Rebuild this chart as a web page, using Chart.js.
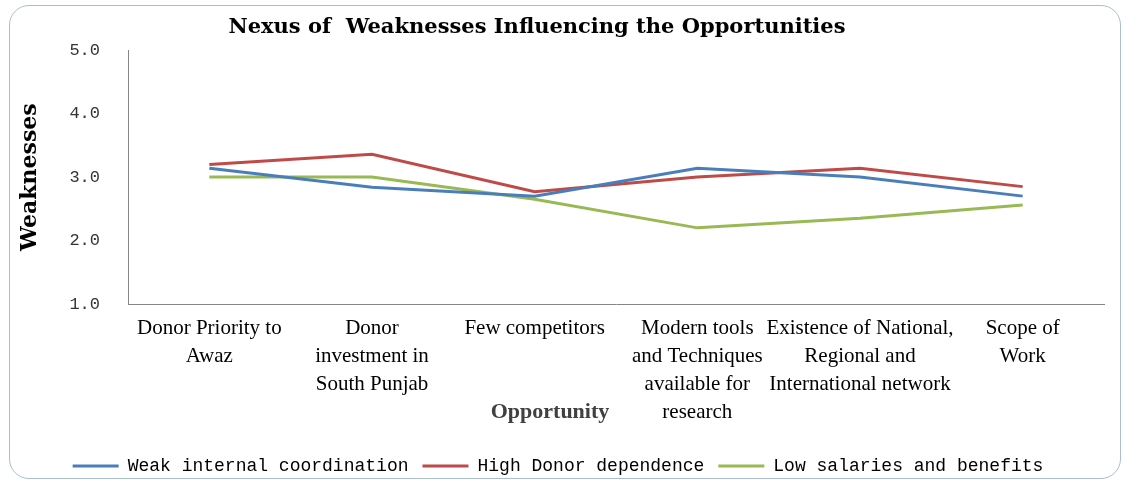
<!DOCTYPE html>
<html>
<head>
<meta charset="utf-8">
<script src="https://cdn.jsdelivr.net/npm/chart.js@4/dist/chart.umd.min.js"></script>
<style>
    html, body { margin: 0; padding: 0; background: #fff; }
    #wrap { position: relative; width: 1126px; height: 485px; }
    #frame {
        position: absolute; left: 9px; top: 5px; width: 1112px; height: 474px;
        border: 1.5px solid #a9bfcd; border-radius: 20px; box-sizing: border-box;
    }
    canvas { position: absolute; left: 0; top: 0; }
</style>
</head>
<body>
<div id="wrap">
    <div id="frame"></div>
    <canvas id="myChart" width="1126" height="485"></canvas>
</div>
<script>
var opportunities = [
    ['Donor Priority to', 'Awaz'],
    ['Donor', 'investment in', 'South Punjab'],
    'Few competitors',
    ['Modern tools', 'and Techniques', 'available for', 'research'],
    ['Existence of National,', 'Regional and', 'International network'],
    ['Scope of', 'Work']
];

var weakCoordination = [3.14, 2.84, 2.70, 3.14, 3.00, 2.70];
var donorDependence = [3.20, 3.36, 2.77, 3.00, 3.14, 2.85];
var lowSalaries = [3.00, 3.00, 2.65, 2.20, 2.35, 2.56];

var yTicks = [1, 2, 3, 4, 5];

var serif = "'Liberation Serif', 'Times New Roman', serif";
var mono = "'Liberation Mono', 'Courier New', monospace";

var ctx = document.getElementById('myChart').getContext('2d');
var myChart = new Chart(ctx, {
    type: 'line',
    data: {
        labels: opportunities,
        datasets: [{
            label: 'Weak internal coordination',
            data: weakCoordination,
            borderColor: '#4a7ebb',
            backgroundColor: '#4a7ebb',
            borderWidth: 3
        }, {
            label: 'High Donor dependence',
            data: donorDependence,
            borderColor: '#be4b48',
            backgroundColor: '#be4b48',
            borderWidth: 3
        }, {
            label: 'Low salaries and benefits',
            data: lowSalaries,
            borderColor: '#98b954',
            backgroundColor: '#98b954',
            borderWidth: 3
        }]
    },
    options: {
        responsive: false,
        animation: false,
        layout: {
            padding: { left: 12, right: 22, top: 10, bottom: 0 }
        },
        elements: {
            line: { tension: 0 },
            point: { radius: 0, hoverRadius: 0 }
        },
        plugins: {
            tooltip: { enabled: false },
            title: {
                display: true,
                // trailing em spaces nudge the centred title a bit to the left
                text: 'Nexus of  Weaknesses Influencing the Opportunities\u2003\u2003',
                color: '#000',
                font: { family: "'DejaVu Serif', serif", size: 21, weight: 'bold', lineHeight: 1.2 },
                padding: { top: 5, bottom: 10 }
            },
            legend: {
                position: 'bottom',
                labels: {
                    color: '#000',
                    font: { family: mono, size: 18 },
                    usePointStyle: true,
                    pointStyle: 'line',
                    pointStyleWidth: 46,
                    padding: 14
                }
            }
        },
        scales: {
            x: {
                offset: true,
                afterFit: function (scale) { scale.height = 139; },
                grid: { display: true, drawOnChartArea: false, drawTicks: false, offset: false },
                border: { color: '#868686', width: 1 },
                ticks: {
                    autoSkip: false,
                    maxRotation: 0,
                    minRotation: 0,
                    padding: 11,
                    color: '#000',
                    font: { family: serif, size: 21, lineHeight: 1.33 }
                },
                title: {
                    display: true,
                    // em spaces push the centred title left, off the last lines of the labels
                    text: 'Opportunity\u2003\u2003\u2003\u2003\u2003\u2003',
                    color: '#404040',
                    font: { family: serif, size: 22, weight: 'bold', lineHeight: 1.1 },
                    padding: { top: 0, bottom: 19 }
                }
            },
            y: {
                min: 1,
                max: 5,
                afterFit: function (scale) { scale.width = 116; },
                afterBuildTicks: function (scale) {
                    scale.ticks = yTicks.map(function (v) { return { value: v }; });
                },
                grid: { display: false, drawTicks: false },
                border: { color: '#868686', width: 1 },
                ticks: {
                    padding: 28,
                    color: '#333',
                    font: { family: mono, size: 17 },
                    callback: function (value) { return value.toFixed(1); }
                },
                title: {
                    display: true,
                    text: 'Weaknesses',
                    color: '#000',
                    font: { family: "'DejaVu Serif', serif", size: 22, weight: 'bold', lineHeight: 1.2 },
                    padding: { top: 5, bottom: 0 }
                }
            }
        }
    }
});
</script>
</body>
</html>
